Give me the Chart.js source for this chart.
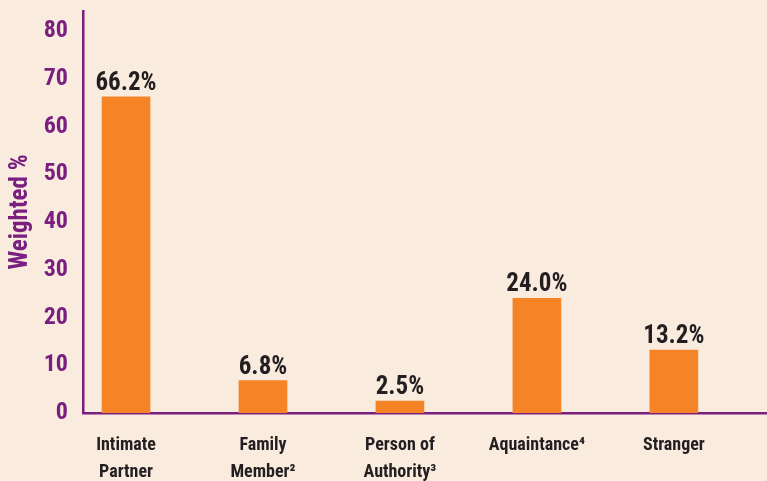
<!DOCTYPE html>
<html>
<head>
<meta charset="utf-8">
<script src="https://cdn.jsdelivr.net/npm/chart.js@4.4.1/dist/chart.umd.min.js"></script>
<style>
  html, body { margin: 0; padding: 0; background: #FAEBDF; }
  #wrap { width: 767px; height: 481px; }
</style>
</head>
<body>
<div id="wrap"><canvas id="c" width="767" height="481"></canvas></div>
<script>
const categories = [
  ['Intimate', 'Partner'],
  ['Family', 'Member\u00B2'],
  ['Person of', 'Authority\u00B3'],
  ['Aquaintance\u2074'],
  ['Stranger']
];
const values = [66.2, 6.8, 2.5, 24.0, 13.2];
const valueLabels = ['66.2%', '6.8%', '2.5%', '24.0%', '13.2%'];
const yTicks = [0, 10, 20, 30, 40, 50, 60, 70, 80];
const yTitle = 'Weighted %';

const PURPLE = '#7A1E80';
const ORANGE = '#F58426';
const DARK = '#231F20';
const FONT = "'Roboto Condensed', 'Liberation Sans Narrow', Roboto, 'Liberation Sans', sans-serif";

const valueLabelPlugin = {
  id: 'valueLabels',
  afterDatasetsDraw(chart) {
    const ctx = chart.ctx;
    const meta = chart.getDatasetMeta(0);
    ctx.save();
    ctx.font = "bold 25px " + FONT;
    ctx.fillStyle = DARK;
    ctx.textAlign = 'center';
    ctx.textBaseline = 'alphabetic';
    meta.data.forEach((bar, i) => {
      ctx.fillText(valueLabels[i], bar.x, bar.y - 7);
    });
    ctx.restore();
  }
};

new Chart(document.getElementById('c'), {
  type: 'bar',
  data: {
    datasets: [{
      data: values.map((v, i) => ({ x: i, y: v })),
      backgroundColor: ORANGE,
      borderWidth: 0,
      barThickness: 48
    }]
  },
  options: {
    responsive: false,
    animation: false,
    devicePixelRatio: 1,
    layout: { padding: { top: 11, right: 0, left: 0, bottom: 0 } },
    plugins: {
      legend: { display: false },
      tooltip: { enabled: false }
    },
    scales: {
      x: {
        type: 'linear',
        offset: false,
        min: -0.314,
        max: 4.68,
        grid: { display: false, drawTicks: false },
        border: { display: true, color: PURPLE, width: 2.5 },
        afterBuildTicks: (scale) => { scale.ticks = categories.map((_, i) => ({ value: i })); },
        afterFit: (scale) => { scale.height = 68; scale.paddingLeft = 0; scale.paddingRight = 0; },
        ticks: {
          autoSkip: false,
          maxRotation: 0,
          padding: 19,
          color: DARK,
          font: { family: FONT, size: 18, weight: 'bold', lineHeight: 1.5 },
          callback: (v) => categories[v]
        }
      },
      y: {
        min: 0,
        max: 84.2,
        grid: { display: false, drawTicks: false },
        border: { display: true, color: PURPLE, width: 2.5 },
        afterBuildTicks: (scale) => { scale.ticks = yTicks.map(v => ({ value: v })); },
        afterFit: (scale) => { scale.width = 83; scale.paddingTop = 0; scale.paddingBottom = 0; },
        ticks: {
          padding: 15,
          color: PURPLE,
          font: { family: FONT, size: 24, weight: 'bold' }
        },
        title: {
          display: true,
          text: yTitle,
          color: PURPLE,
          padding: { top: 6, bottom: 0 },
          font: { family: FONT, size: 25, weight: 'bold', lineHeight: 1.2 }
        }
      }
    }
  },
  plugins: [valueLabelPlugin]
});
</script>
</body>
</html>
